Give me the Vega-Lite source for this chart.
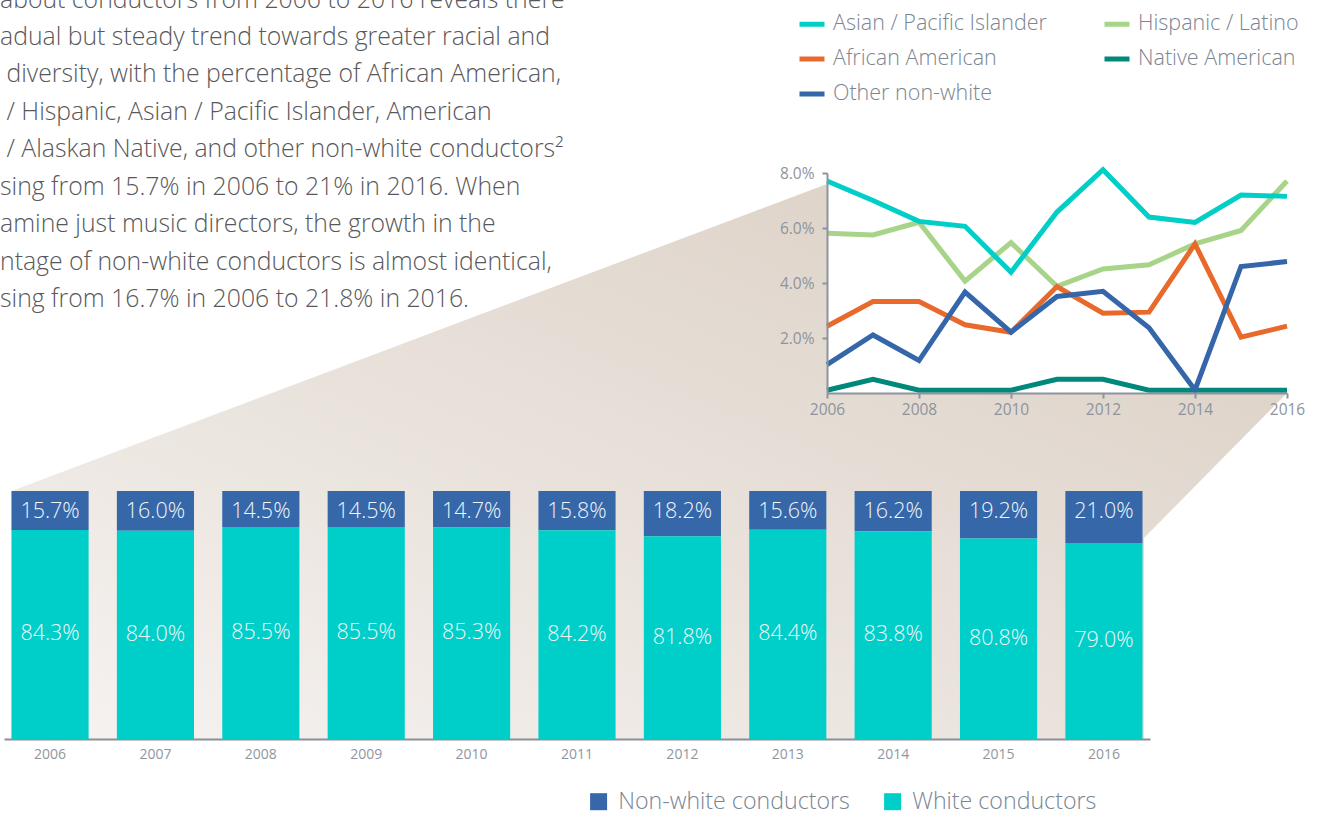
{
  "$schema": "https://vega.github.io/schema/vega-lite/v6.json",
  "autosize": {"type": "none"},
  "padding": {"left": 4, "top": 173, "right": 1329, "bottom": 644},
  "background": "#ffffff",
  "config": {"view": {"stroke": null}, "font": "Open Sans"},
  "spacing": 318,
  "bounds": "flush",
  "resolve": {"scale": {"color": "independent"}, "legend": {"color": "independent"}},
  "vconcat": [
    {
      "spacing": 243,
      "bounds": "flush",
      "hconcat": [
        {
          "width": 580,
          "height": 220,
          "data": {"values": [
            {"line": 1, "text": "about conductors from 2006 to 2016 reveals there"},
            {"line": 2, "text": "adual but steady trend towards greater racial and"},
            {"line": 3, "text": "\u200b\u00a0diversity, with the percentage of African American,"},
            {"line": 4, "text": "\u200b\u00a0/ Hispanic, Asian / Pacific Islander, American"},
            {"line": 5, "text": "\u200b\u00a0/ Alaskan Native, and other non-white conductors\u00b2"},
            {"line": 6, "text": "sing from 15.7% in 2006 to 21% in 2016. When"},
            {"line": 7, "text": "amine just music directors, the growth in the"},
            {"line": 8, "text": "ntage of non-white conductors is almost identical,"},
            {"line": 9, "text": "sing from 16.7% in 2006 to 21.8% in 2016."}
          ]},
          "mark": {"type": "text", "align": "left", "baseline": "alphabetic", "font": "Open Sans", "fontSize": 24.8, "fontWeight": 300, "color": "#58585a"},
          "encoding": {
            "x": {"value": -4},
            "y": {"field": "line", "type": "quantitative", "scale": {"domain": [5.42, 11.3], "reverse": true, "nice": false, "zero": false}, "axis": null},
            "text": {"field": "text"}
          }
        },
        {
          "width": 460,
          "height": 220,
          "layer": [
            {
              "data": {"values": [
                {"px": 1988.272, "ytop": -0.03564, "ybot": -0.12582},
                {"px": 2006, "ytop": 0.076, "ybot": -0.12582},
                {"px": 2006, "ytop": 0, "ybot": -0.12582},
                {"px": 2012.891, "ytop": 0, "ybot": -0.12582},
                {"px": 2012.891, "ytop": 0, "ybot": -0.05273},
                {"px": 2016, "ytop": 0, "ybot": 0}
              ]},
              "mark": {"type": "area", "orient": "vertical", "interpolate": "linear", "opacity": 1,
                "color": {"gradient": "linear", "x1": 0, "y1": 1, "x2": 1, "y2": 0,
                  "stops": [{"offset": 0, "color": "#f6f3f1"}, {"offset": 1, "color": "#d9cdc1"}]}},
              "encoding": {
                "x": {"field": "px", "type": "quantitative", "title": null, "scale": {"domain": [2006, 2016], "nice": false, "zero": false}},
                "y": {"field": "ytop", "type": "quantitative", "title": null, "scale": {"domain": [0, 0.08], "nice": false}},
                "y2": {"field": "ybot"}
              }
            },
            {
              "data": {"values": [
                {"group": "Native American", "year": 2006, "pct": 0.001},
                {"group": "Native American", "year": 2007, "pct": 0.005},
                {"group": "Native American", "year": 2008, "pct": 0.001},
                {"group": "Native American", "year": 2009, "pct": 0.001},
                {"group": "Native American", "year": 2010, "pct": 0.001},
                {"group": "Native American", "year": 2011, "pct": 0.005},
                {"group": "Native American", "year": 2012, "pct": 0.005},
                {"group": "Native American", "year": 2013, "pct": 0.001},
                {"group": "Native American", "year": 2014, "pct": 0.001},
                {"group": "Native American", "year": 2015, "pct": 0.001},
                {"group": "Native American", "year": 2016, "pct": 0.001},
                {"group": "Hispanic / Latino", "year": 2006, "pct": 0.0581},
                {"group": "Hispanic / Latino", "year": 2007, "pct": 0.0575},
                {"group": "Hispanic / Latino", "year": 2008, "pct": 0.0621},
                {"group": "Hispanic / Latino", "year": 2009, "pct": 0.0407},
                {"group": "Hispanic / Latino", "year": 2010, "pct": 0.0547},
                {"group": "Hispanic / Latino", "year": 2011, "pct": 0.0388},
                {"group": "Hispanic / Latino", "year": 2012, "pct": 0.0451},
                {"group": "Hispanic / Latino", "year": 2013, "pct": 0.0466},
                {"group": "Hispanic / Latino", "year": 2014, "pct": 0.0542},
                {"group": "Hispanic / Latino", "year": 2015, "pct": 0.0591},
                {"group": "Hispanic / Latino", "year": 2016, "pct": 0.0771},
                {"group": "Asian / Pacific Islander", "year": 2006, "pct": 0.0771},
                {"group": "Asian / Pacific Islander", "year": 2007, "pct": 0.0700},
                {"group": "Asian / Pacific Islander", "year": 2008, "pct": 0.0624},
                {"group": "Asian / Pacific Islander", "year": 2009, "pct": 0.0606},
                {"group": "Asian / Pacific Islander", "year": 2010, "pct": 0.0439},
                {"group": "Asian / Pacific Islander", "year": 2011, "pct": 0.0658},
                {"group": "Asian / Pacific Islander", "year": 2012, "pct": 0.0812},
                {"group": "Asian / Pacific Islander", "year": 2013, "pct": 0.0640},
                {"group": "Asian / Pacific Islander", "year": 2014, "pct": 0.0620},
                {"group": "Asian / Pacific Islander", "year": 2015, "pct": 0.0720},
                {"group": "Asian / Pacific Islander", "year": 2016, "pct": 0.0715},
                {"group": "African American", "year": 2006, "pct": 0.0243},
                {"group": "African American", "year": 2007, "pct": 0.0333},
                {"group": "African American", "year": 2008, "pct": 0.0333},
                {"group": "African American", "year": 2009, "pct": 0.0248},
                {"group": "African American", "year": 2010, "pct": 0.0221},
                {"group": "African American", "year": 2011, "pct": 0.0387},
                {"group": "African American", "year": 2012, "pct": 0.0290},
                {"group": "African American", "year": 2013, "pct": 0.0294},
                {"group": "African American", "year": 2014, "pct": 0.0542},
                {"group": "African American", "year": 2015, "pct": 0.0203},
                {"group": "African American", "year": 2016, "pct": 0.0243},
                {"group": "Other non-white", "year": 2006, "pct": 0.0103},
                {"group": "Other non-white", "year": 2007, "pct": 0.0211},
                {"group": "Other non-white", "year": 2008, "pct": 0.0118},
                {"group": "Other non-white", "year": 2009, "pct": 0.0367},
                {"group": "Other non-white", "year": 2010, "pct": 0.0221},
                {"group": "Other non-white", "year": 2011, "pct": 0.0351},
                {"group": "Other non-white", "year": 2012, "pct": 0.0370},
                {"group": "Other non-white", "year": 2013, "pct": 0.0237},
                {"group": "Other non-white", "year": 2014, "pct": 0.0011},
                {"group": "Other non-white", "year": 2015, "pct": 0.0460},
                {"group": "Other non-white", "year": 2016, "pct": 0.0478}
              ]},
              "mark": {"type": "line", "strokeWidth": 5},
              "encoding": {
                "x": {"field": "year", "type": "quantitative", "title": null,
                  "scale": {"domain": [2006, 2016], "nice": false, "zero": false},
                  "axis": {"values": [2006, 2008, 2010, 2012, 2014, 2016], "format": "d", "title": null, "grid": false, "zindex": 1,
                    "labelFontSize": 15.5, "labelColor": "#8d949e", "labelPadding": 4, "labelFlush": false,
                    "tickColor": "#8d949e", "tickSize": 5, "tickWidth": 2, "domainColor": "#8d949e", "domainWidth": 2}},
                "y": {"field": "pct", "type": "quantitative", "title": null,
                  "scale": {"domain": [0, 0.08], "nice": false},
                  "axis": {"values": [0.02, 0.04, 0.06, 0.08], "format": ".1%", "title": null, "grid": false, "zindex": 1,
                    "labelFontSize": 15.5, "labelColor": "#8d949e", "labelPadding": 8,
                    "tickColor": "#8d949e", "tickSize": 5, "tickWidth": 2, "domainColor": "#8d949e", "domainWidth": 2}},
                "color": {"field": "group", "type": "nominal",
                  "scale": {"domain": ["Asian / Pacific Islander", "Hispanic / Latino", "African American", "Native American", "Other non-white"],
                            "range": ["#00cec7", "#a7d488", "#e8692b", "#00897b", "#3566a9"]},
                  "legend": {"orient": "none", "legendX": 793, "legendY": -164, "columns": 2, "direction": "horizontal", "title": null,
                    "symbolType": "stroke", "symbolStrokeWidth": 5, "symbolSize": 625,
                    "labelFont": "Open Sans", "labelFontSize": 21.5, "labelFontWeight": 300, "labelColor": "#7b8592", "labelOffset": 6, "labelLimit": 0,
                    "columnPadding": 47, "rowPadding": 9}}
              }
            }
          ]
        }
      ]
    },
    {
      "width": 1146,
      "height": 248,
      "data": {"values": [
        {"year": "2006", "group": "Non-white conductors", "value": 0.157},
        {"year": "2006", "group": "White conductors", "value": 0.843},
        {"year": "2007", "group": "Non-white conductors", "value": 0.160},
        {"year": "2007", "group": "White conductors", "value": 0.840},
        {"year": "2008", "group": "Non-white conductors", "value": 0.145},
        {"year": "2008", "group": "White conductors", "value": 0.855},
        {"year": "2009", "group": "Non-white conductors", "value": 0.145},
        {"year": "2009", "group": "White conductors", "value": 0.855},
        {"year": "2010", "group": "Non-white conductors", "value": 0.147},
        {"year": "2010", "group": "White conductors", "value": 0.853},
        {"year": "2011", "group": "Non-white conductors", "value": 0.158},
        {"year": "2011", "group": "White conductors", "value": 0.842},
        {"year": "2012", "group": "Non-white conductors", "value": 0.182},
        {"year": "2012", "group": "White conductors", "value": 0.818},
        {"year": "2013", "group": "Non-white conductors", "value": 0.156},
        {"year": "2013", "group": "White conductors", "value": 0.844},
        {"year": "2014", "group": "Non-white conductors", "value": 0.162},
        {"year": "2014", "group": "White conductors", "value": 0.838},
        {"year": "2015", "group": "Non-white conductors", "value": 0.192},
        {"year": "2015", "group": "White conductors", "value": 0.808},
        {"year": "2016", "group": "Non-white conductors", "value": 0.210},
        {"year": "2016", "group": "White conductors", "value": 0.790}
      ]},
      "layer": [
        {
          "mark": {"type": "bar"},
          "encoding": {
            "x": {"field": "year", "type": "ordinal",
              "scale": {"paddingInner": 0.268, "paddingOuter": 0.071},
              "axis": {"title": null, "labelAngle": 0, "ticks": false, "labelFontSize": 14, "labelColor": "#8f96a0",
                "labelPadding": 8, "domainColor": "#8b9097", "domainWidth": 2}},
            "y": {"field": "value", "type": "quantitative", "stack": "zero", "scale": {"domain": [0, 1], "nice": false}, "axis": null},
            "color": {"field": "group", "type": "nominal",
              "scale": {"domain": ["Non-white conductors", "White conductors"], "range": ["#3567a9", "#00cfc9"]},
              "legend": {"orient": "none", "legendX": 583, "legendY": 299, "direction": "horizontal", "title": null,
                "symbolType": "square", "symbolSize": 289, "symbolStrokeWidth": 0, "symbolOpacity": 1,
                "labelFont": "Open Sans", "labelFontSize": 23.2, "labelFontWeight": 300, "labelColor": "#7b8592", "labelOffset": 8, "labelLimit": 0, "columnPadding": 31}},
            "order": {"field": "group", "sort": "descending"}
          }
        },
        {
          "transform": [{"filter": {"field": "group", "equal": "Non-white conductors"}}],
          "mark": {"type": "text", "baseline": "middle", "dy": 21, "font": "Open Sans", "fontSize": 21.5, "fontWeight": 300, "color": "#f1f6f8"},
          "encoding": {
            "x": {"field": "year", "type": "ordinal"},
            "y": {"datum": 1, "type": "quantitative", "scale": {"domain": [0, 1], "nice": false}, "axis": null},
            "text": {"field": "value", "type": "quantitative", "format": ".1%"}
          }
        },
        {
          "transform": [{"filter": {"field": "group", "equal": "White conductors"}}],
          "mark": {"type": "text", "baseline": "middle", "font": "Open Sans", "fontSize": 21.5, "fontWeight": 300, "color": "#f1f6f8"},
          "encoding": {
            "x": {"field": "year", "type": "ordinal"},
            "y": {"field": "value", "type": "quantitative", "scale": {"domain": [0, 2], "nice": false}, "axis": null},
            "text": {"field": "value", "type": "quantitative", "format": ".1%"}
          }
        }
      ],
      "resolve": {"scale": {"y": "independent"}}
    }
  ]
}
